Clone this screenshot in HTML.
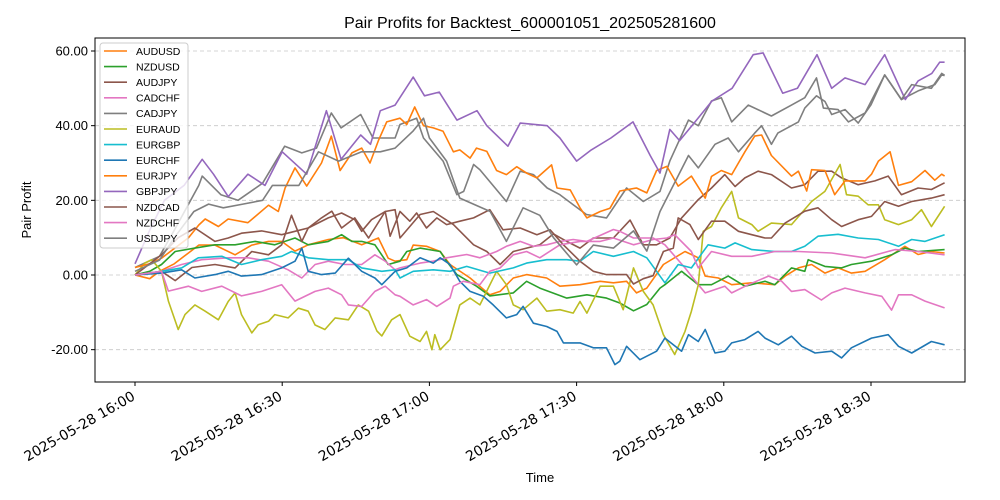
<!DOCTYPE html>
<html><head><meta charset="utf-8"><style>
body{margin:0;background:#fff;}
svg{display:block;font-family:"Liberation Sans","DejaVu Sans",sans-serif;}
</style></head><body>
<svg id="chart" width="1000" height="500" viewBox="0 0 1000 500">
<rect x="0" y="0" width="1000" height="500" fill="#fff"/>
<text x="530" y="28" text-anchor="middle" font-size="16" fill="#000">Pair Profits for Backtest_600001051_202505281600</text>
<g id="grid"></g>
<g id="lines"></g>
<rect x="95" y="38" width="870" height="344" fill="none" stroke="#000" stroke-width="1"/>
<g id="axes"></g>
<text x="540" y="482" text-anchor="middle" font-size="13">Time</text>
<text x="0" y="0" transform="translate(31,210) rotate(-90)" text-anchor="middle" font-size="13">Pair Profit</text>
<g id="legend"></g>
</svg>
<script>
const seriesNames = ["AUDUSD","NZDUSD","AUDJPY","CADCHF","CADJPY","EURAUD","EURGBP","EURCHF","EURJPY","GBPJPY","NZDCAD","NZDCHF","USDJPY"];
const seriesColors = ["#ff7f0e","#2ca02c","#8c564b","#e377c2","#7f7f7f","#bcbd22","#17becf","#1f77b4","#ff7f0e","#9467bd","#8c564b","#e377c2","#7f7f7f"];
const yTicks = [-20, 0, 20, 40, 60];
const yTickLabels = ["-20.00","0.00","20.00","40.00","60.00"];
const xTicks = [0, 30, 60, 90, 120, 150];
const xTickLabels = ["2025-05-28 16:00","2025-05-28 16:30","2025-05-28 17:00","2025-05-28 17:30","2025-05-28 18:00","2025-05-28 18:30"];
// data: [minutes after 16:00, profit]
const AUDUSD = [[0,0],[3,-1],[5,1],[8,3],[10,5],[13,8],[16.3,8],[20.4,5.4],[23.8,8],[27.2,9],[29.9,9],[32.6,6.4],[35.3,8.1],[39.4,9.5],[42.5,10],[46.2,8.1],[49.6,9.9],[51.6,4.5],[53,3.7],[55.4,4.1],[56.7,8],[59.4,7.7],[62.2,6.3],[64.2,2.8],[68.3,-0.8],[72.3,-5.3],[74.4,-4.4],[77.1,-0.8],[79.8,0.1],[83.9,-0.8],[86.6,-3],[90.7,-2.6],[94.8,-1.7],[97.5,-2.1],[100.2,-1.7],[102.2,-4.8],[104.3,-3.5],[107.7,2.8],[112.1,6.3],[114.8,4.6],[116.2,-0.3],[118.9,-0.8],[121.6,-2.6],[125.7,-2.1],[130.4,-2.6],[132.5,-0.3],[135.2,1.9],[137.9,2.8],[140.6,0.5],[143.3,1.9],[146,0.5],[148.8,1],[152.8,4.1],[156.9,7.7],[159.6,5.5],[162.3,6.3],[165,5.9]];
const NZDUSD = [[0,0],[3,1],[5.4,2.8],[8.2,6.3],[12.2,7.2],[16.3,8.1],[20.4,8.1],[24.5,9],[28.5,8.1],[32.6,9.9],[35.3,8.1],[39.4,9],[42.1,10.8],[44.2,9],[46.2,9],[48.9,8.1],[51.6,2.8],[54,3.7],[55.4,6.3],[58.1,7.2],[62.2,6.3],[63.5,3.7],[65.6,0.1],[69.6,-3],[72.3,-5.6],[77.1,-4.8],[79.8,-1.7],[82.5,-3.5],[88,-6.2],[92.1,-5.3],[96.1,-6.2],[98.8,-7.5],[101.6,-9.6],[104.3,-7.9],[107,-3.5],[108,-2.6],[111.4,1],[114.8,-2.6],[117.5,-2.6],[120.9,-0.3],[124.3,-3],[128.4,-1.7],[130.4,-2.6],[133.8,1.9],[136.5,1],[137.2,4.1],[140.6,2.3],[144,1.9],[146,2.8],[150.1,3.7],[154.2,5.4],[156.9,7.2],[159.6,6.3],[165,6.8]];
const AUDJPY = [[0,0],[5.4,1],[8.2,-1.5],[11.6,2],[16.3,2.8],[20.4,1.9],[23.8,6.3],[27.2,5.4],[29.9,8.1],[31.9,16],[34,9],[35.3,12.6],[38,15.3],[40.1,17.1],[42.1,12.6],[44.8,15.3],[47.6,9.9],[51,17],[53,17.5],[54,9.9],[58.1,16.2],[60.8,17],[64.9,13.5],[69,8.1],[71.7,6.3],[74.4,2.8],[77.1,6.3],[79.8,7.2],[82.5,8.1],[85.3,11],[88,9],[90.7,7.2],[93.4,9.9],[97.5,9.9],[100.9,14.7],[103.6,8.1],[106.3,8.1],[109,9.9],[111.4,15.3],[114.8,20.2],[117.5,23.3],[120.2,26.9],[122.3,23.7],[124.3,26],[127,27.8],[129.7,26.9],[133.8,23.3],[136.5,24.2],[139.2,27.8],[142,27.8],[144,26],[147.4,24.2],[150.8,25.2],[153.5,26.5],[156.2,21.5],[159.6,23.3],[162.3,22.9],[165,24.7]];
const CADCHF = [[0,0],[5.4,1],[9.5,2.8],[13.6,4.1],[19,4.6],[23.1,4.6],[27.2,3.7],[31.2,1.4],[34,-0.8],[36.7,2.8],[39.4,3.7],[42.8,2.8],[46.2,2.8],[48.9,5.4],[51,3.7],[53,1.4],[54,1.9],[58.1,3.2],[60.8,3.7],[63.5,4.6],[67.6,5.5],[70.3,4.6],[73.7,6.3],[75.7,7.7],[78.5,9],[81.2,7.7],[83.9,8.1],[86.6,9],[89.3,9.5],[92.1,9],[97.5,12.2],[98.8,11.7],[101.6,9.9],[105.6,9.9],[108,8.1],[112.1,1.9],[114.8,-2.6],[116.2,-4.8],[120.2,-3],[121.6,-4.8],[125,-2.6],[129.1,-0.3],[131.8,-1.7],[133.8,-4.4],[136.5,-3.9],[139.9,-6.7],[142,-4.8],[144.7,-3.5],[148.8,-4.8],[152.2,-5.7],[154.2,-9.4],[155.6,-5.3],[158.3,-5.3],[161,-7],[165,-8.8]];
const CADJPY = [[0,2],[5,5],[8,12],[13,24],[13.7,26.5],[17.5,21.5],[21,20],[26,24.6],[30.5,34.5],[34,32.7],[37,34],[40,43.4],[42,39.4],[46,43],[48.5,36.7],[53,36.7],[54,40.3],[57.4,42],[58.8,36.7],[62.8,30.5],[65.6,21.5],[67,22.4],[69,29.6],[70.3,28.2],[75.7,19.7],[78.5,27.8],[81.2,26.9],[84,23.3],[86.6,21.5],[89.3,18.8],[92,16.2],[96.1,15.3],[100.2,23.3],[103.6,19.7],[107,22.4],[109,30.5],[112.8,41.5],[114.8,40],[117.5,46.6],[119.5,47.5],[121.6,41],[125,45.5],[129.7,42.6],[133.8,45.5],[136.5,47.5],[138.9,52.8],[140.3,44.7],[143.3,44.3],[145.4,41],[148.8,43.4],[152.8,53.6],[156.2,47],[159.6,49.3],[163,51],[164.4,53.6],[165,53.4]];
const EURAUD = [[0,0],[2,3.2],[3.4,4.1],[5.4,1],[6.8,-7],[8.8,-14.6],[10.2,-10.6],[12.2,-8],[14.3,-9.7],[17,-12],[19,-7.1],[20.4,-4.8],[21.7,-10.6],[23.8,-15.5],[25.1,-13.3],[27.2,-12.4],[28.5,-10.6],[31.2,-11.5],[33.3,-8.9],[35.3,-9.7],[36.7,-13.4],[38.7,-14.6],[40.8,-11.5],[43.5,-12],[45.5,-8],[47.6,-9.7],[49.3,-15],[50.3,-16.3],[52.3,-12],[54,-10.6],[56,-16.4],[58.1,-17.8],[59.4,-15.1],[60.5,-20],[61.1,-16],[62.2,-20],[64.2,-17.3],[66.2,-8],[68.3,-6.2],[70.3,-8],[73.7,1],[75.7,-2.6],[77.1,-8],[79.1,-9.3],[81.9,-6.2],[83.9,-9.7],[86.6,-9.3],[89.3,-10.2],[90.7,-7.1],[92.1,-10.2],[94.8,-3],[97.5,-3],[99.5,-9.3],[101.6,1.9],[103.6,-4.4],[105.6,-8],[107.7,-16],[110,-21.3],[112.1,-15.1],[113.4,-9.7],[114.8,-2.6],[115.8,11.7],[117.5,13],[119.5,18],[121.6,22.4],[123,15.3],[125.7,13.5],[127,11.7],[129.7,13.9],[133.8,13.5],[137.9,19.7],[140.6,22.4],[143.7,29.6],[145,21.5],[147.4,21.1],[149.4,18.8],[151.5,18.8],[152.8,14.8],[155.6,13.5],[158.3,14.8],[160.3,17.5],[162.3,13],[165,18.4]];
const EURGBP = [[0,0],[5.4,1],[9.5,1.9],[12.9,4.6],[17.7,5],[21.7,2.8],[25.8,4.1],[29.9,5],[31.9,6.3],[35.3,4.6],[39.4,4.1],[43.5,4.1],[46.2,1.9],[50.3,1],[53,1.4],[54,-0.8],[56.7,1],[60.8,1.4],[64.2,1],[67.6,2.3],[72.3,0.5],[77.1,1.9],[79.8,3.2],[83.9,4.1],[88,4.1],[90.7,3.7],[93.4,6.3],[97.5,5],[101.6,6.3],[104.3,4.6],[108,-2.1],[110.7,2.8],[113.4,1.9],[116.8,8.1],[120.2,7.2],[122.3,8.6],[125.7,6.8],[130.4,6.3],[133.8,6.3],[136.5,7.7],[139.2,10.4],[143.3,10.9],[147.4,9.9],[151.5,9.5],[155.6,7.7],[158.3,9.5],[161,9],[165,10.8]];
const EURCHF = [[0,0],[5.4,0.5],[9.5,1.4],[12.2,-0.8],[16.3,0.1],[19,1],[21.7,-0.3],[25.8,0.1],[29.9,1.9],[32.6,3.7],[34,7.2],[35.3,1],[38,0.1],[40.8,0.5],[43.5,4.5],[46.2,1],[48.9,-0.8],[50.3,-2.6],[53,1],[55.4,1.9],[58.1,4.6],[60.8,3.2],[62.2,4.6],[64.2,2.8],[66.2,-1.7],[68.3,-4.4],[71,-5.7],[73,-8],[75.7,-11.5],[77.8,-10.6],[79.1,-8.4],[81.2,-12.9],[83.9,-13.8],[86,-15.1],[87.3,-18.2],[90.7,-18.2],[93.4,-19.5],[96.1,-19.5],[97.8,-24],[98.8,-23.1],[100.2,-19.1],[102.9,-22.7],[106.3,-20.4],[108,-16.9],[111.4,-20.4],[112.8,-16],[114.8,-17.8],[116.2,-14.6],[118.2,-20.9],[120.2,-20.4],[121.6,-18.2],[124.3,-17.3],[127,-15.1],[128.4,-16.9],[131.1,-18.7],[133.8,-16.4],[135.9,-19.1],[138.6,-20.9],[142,-20.4],[144,-22.2],[146,-19.5],[150.1,-16.9],[153.5,-16],[155.6,-19.1],[158.3,-20.9],[162.3,-17.8],[165,-18.7]];
const EURJPY = [[0,2],[3,3],[5.4,4.5],[10.9,10],[13,13.4],[14.3,15],[17,13],[19,15],[23,14],[27.2,18.7],[29.2,17],[30.6,23.3],[32.6,28.7],[35,23.8],[38,30],[40,37.2],[41.8,28],[44.2,32.7],[46.2,34],[47.9,30],[49.6,36],[51.3,41],[54,42],[55.4,40.3],[57,45],[58.8,40],[60.8,39.4],[62.8,38.5],[64.9,33],[66.2,33.5],[68.3,31.3],[69.6,34],[71.7,33.1],[73.7,28],[75.7,26.9],[77.8,29],[79.8,27.3],[81.9,26],[84.9,29.5],[86,23.3],[88.7,22.8],[90.7,18],[92.1,15.3],[94.8,17],[96.8,17.9],[98.8,22.5],[102.2,23.3],[104.3,22],[106.3,28],[108.4,29.1],[110.7,23.8],[113.4,26.5],[116.2,20.6],[117.5,26.4],[119.5,28],[121.6,26.9],[124.3,33],[126.3,37.2],[127.7,37.5],[129.7,32],[133.8,26.5],[135.2,27.8],[136.9,22.5],[137.9,28.2],[140.6,28],[142.6,21.5],[144.7,25.2],[148.8,25.2],[150.1,27],[151.5,30.5],[153.9,33],[155.6,24],[158.3,25],[161,28],[163,25.4],[164.4,27],[165,26.5]];
const GBPJPY = [[0,3],[3,12],[6,20],[10,24],[13.7,31],[16,27],[19,21],[23,27],[26.5,24],[30,33],[35,27],[39,44],[42,31],[46,37.5],[48,35],[50,44],[53,45.5],[56.7,53],[59,48],[62,49],[65.6,41.5],[69.7,44],[71.7,40],[76,34.5],[78.5,40.7],[84,40],[86.6,36.7],[90,30.5],[93,33.5],[97,36.7],[101.5,41],[105,32],[107,27.3],[109,39],[111,36],[113.5,40],[117.6,46.6],[121.7,50],[126,59],[128,59.5],[132,48.7],[135,50],[139,59],[142,50],[144.7,52.8],[148.8,51],[152.8,59],[157,47],[159.6,52],[162.4,54],[164,57],[165,57]];
const NZDCAD = [[0,0],[5.4,5.4],[8.8,10],[12.2,12.6],[16.3,9],[19,9.9],[21.7,11.2],[25.8,11.8],[29.9,10.8],[32.6,11.7],[35.3,12.6],[39.4,15.3],[42.1,16.6],[44.8,14.8],[46.2,11.7],[48.2,14.8],[51,17],[52,10.4],[54,17],[56,14.4],[57.4,16.6],[59.4,12.6],[61.5,15.3],[63.5,13.5],[66.2,14.4],[69,15.3],[72.3,17.5],[75,12.1],[78.5,12.6],[81.9,10.8],[84.6,12.1],[87.3,8.1],[90.7,3.7],[93.4,1],[96.1,0.1],[100.2,0.1],[101.6,-2.4],[103.6,-1],[105.6,-0.2],[107.7,6.3],[109.7,7.2],[110.7,15.3],[113.1,13.5],[114.8,9.5],[117.5,14.4],[120.2,14.4],[123,11.7],[125.7,10.8],[128.4,9.9],[129.7,9.9],[132.5,13.9],[136.5,17.1],[139.2,18],[142,14.8],[144,13],[147.4,14.8],[150.1,15.7],[152.8,19.7],[155.6,18.4],[158.3,19.7],[162.3,20.6],[165,21.5]];
const NZDCHF = [[0,0],[5.4,1],[6.8,-4.3],[10.9,-3],[13.6,-4.4],[17.7,-3],[21.7,-5.6],[25.8,-4.4],[29.9,-2.6],[32.6,-7],[36.7,-4.4],[39.4,-3.5],[42.1,-5.3],[43.5,-8],[46.2,-8.4],[48.9,-4.4],[51,-3],[53,-5.3],[54,-5.7],[56.7,-8],[59.4,-6.6],[61.5,-8.4],[64.2,-6.2],[64.9,-3],[66.9,-1.7],[70.3,-2.6],[72.3,1],[74.4,1.9],[77.1,5.4],[79.8,6.3],[82.5,4.6],[86.6,8.1],[90.7,9],[94.8,9],[97.5,9.9],[101.6,8.1],[105.6,9.5],[108.4,9.9],[110,10.8],[113.4,6.3],[114.8,1.9],[117.5,6.3],[121.6,5],[125.7,5],[130.4,6.3],[135.2,6.3],[142,5.9],[148.8,4.6],[154.9,6.8],[159.6,6.3],[165,5.4]];
const USDJPY = [[0,1],[5,4],[8,10],[12,17],[15,19],[18,18],[22,19],[26,20],[28,24],[33.4,24],[37.4,33],[41.5,30.5],[46.2,33],[50,33],[53,34],[56.7,38.6],[58.8,42],[60,36.7],[63.5,30.5],[66.2,20.6],[72.4,17],[75.7,9],[79.1,18],[82.5,16],[85.3,10],[90,2.7],[93.4,8],[97.5,7.2],[101.6,11.8],[104.3,6.4],[107,17],[112.8,32],[114.8,28.7],[118.2,35],[120.9,36.7],[123,33],[126.3,38],[127.7,40],[129.7,35],[131,38],[135.2,41],[136.5,44.7],[138.9,48],[140.6,46.5],[142,43],[144.7,44.3],[147.4,40.7],[150,45.6],[152.8,53.6],[156.2,47],[158.3,51],[162.3,50],[164.4,54],[165,53.5]];
const allSeries = [AUDUSD,NZDUSD,AUDJPY,CADCHF,CADJPY,EURAUD,EURGBP,EURCHF,EURJPY,GBPJPY,NZDCAD,NZDCHF,USDJPY];

const NS = "http://www.w3.org/2000/svg";
function xScale(t){ return 135 + t * (736/150); }
function yScale(v){ return 275 - v * (224/60); }
function mk(tag, attrs, parent){ const e=document.createElementNS(NS,tag); for(const k in attrs) e.setAttribute(k,attrs[k]); parent.appendChild(e); return e; }

const grid=document.getElementById('grid'), axes=document.getElementById('axes'), lines=document.getElementById('lines'), legend=document.getElementById('legend');
yTicks.forEach((v,i)=>{
  const y=yScale(v);
  const g=mk('line',{x1:95,x2:965,y1:y,y2:y,stroke:'#b0b0b0','stroke-width':0.8,'stroke-dasharray':'4,3',opacity:0.7},grid);
  
  
  const tk=mk('line',{x1:91,x2:95,y1:y,y2:y,stroke:'#000'},axes);
  
  
  const tx=mk('text',{x:88,y:y+4.5,'text-anchor':'end','font-size':13},axes);
  tx.textContent=yTickLabels[i];
  
  
});
xTicks.forEach((t,i)=>{
  const x=xScale(t);
  const tk=mk('line',{x1:x,x2:x,y1:382,y2:386,stroke:'#000'},axes);
  
  
  const tx=mk('text',{x:0,y:0,'text-anchor':'end','font-size':13.9,'font-family':'"DejaVu Sans",sans-serif',transform:`translate(${x+1},${399}) rotate(-30)`},axes);
  tx.textContent=xTickLabels[i];
  
  
});
allSeries.forEach((s,i)=>{
  const d=s.map((p,j)=>(j?'L':'M')+xScale(p[0]).toFixed(1)+','+yScale(p[1]).toFixed(1)).join(' ');
  const p=mk('path',{d:d,fill:'none',stroke:seriesColors[i],'stroke-width':1.6,'stroke-linejoin':'round'},lines);
  
  
});
const lb=mk('rect',{x:100,y:43,width:88,height:205,rx:3,fill:'#fff','fill-opacity':0.8,stroke:'#ccc'},legend);


seriesNames.forEach((n,i)=>{
  const y=51+i*15.6;
  const g=mk('g',{},legend);
  
  
  mk('line',{x1:104,x2:127,y1:y,y2:y,stroke:seriesColors[i],'stroke-width':1.6},g);
  const t=mk('text',{x:136,y:y+3.8,'font-size':10.5},g);
  t.textContent=n;
});
</script>
</body></html>
